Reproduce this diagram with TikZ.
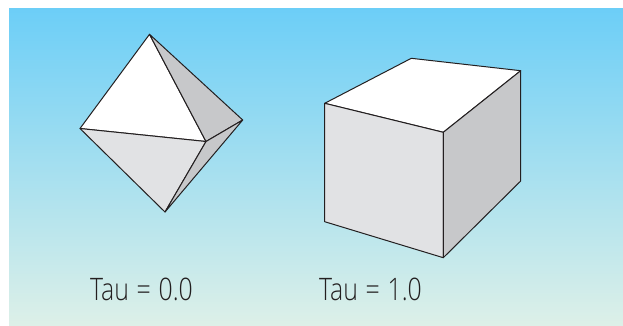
\documentclass[tikz,border=0pt]{standalone}
\usepackage{fontspec}
\setmainfont{Liberation Sans}
\newfontfamily\narrowfont[FakeStretch=0.8,WordSpace=1.2]{Open Sans Light}
\definecolor{topbg}{HTML}{6CCEF7}
\definecolor{botbg}{HTML}{DDF0E8}
\definecolor{inkline}{HTML}{231F20}
\definecolor{lightface}{HTML}{E1E2E4}
\definecolor{darkface}{HTML}{C7C8CA}
\tikzset{
  face/.style={draw=inkline,line width=1pt,line join=round},
  lab/.style={font=\narrowfont\fontsize{31}{34}\selectfont,text=inkline,anchor=base west,inner sep=0pt}
}
\begin{document}
\begin{tikzpicture}[x=1pt,y=-1pt]
\useasboundingbox (0,0) rectangle (623,325);
\fill[white] (0,0) rectangle (623,325);
\shade[top color=topbg,bottom color=botbg] (9,8) rectangle (623,325);
% octahedron
\coordinate (ot) at (149.5,34.3);
\coordinate (ol) at (80,128.5);
\coordinate (or) at (242.7,120);
\coordinate (ob) at (165,212);
\coordinate (oc) at (206,141.5);
\path[face,fill=white] (ot) -- (ol) -- (oc) -- cycle;
\path[face,fill=darkface] (ot) -- (or) -- (oc) -- cycle;
\path[face,fill=lightface] (ol) -- (oc) -- (ob) -- cycle;
\path[face,fill=darkface] (oc) -- (or) -- (ob) -- cycle;
% cube
\coordinate (cb) at (411.3,58.3);
\coordinate (cr) at (520.7,70.7);
\coordinate (cl) at (324.7,103.3);
\coordinate (cc) at (443.3,132.3);
\coordinate (cd) at (443.3,257.7);
\coordinate (cm) at (324.7,221.7);
\coordinate (cn) at (520.7,181);
\path[face,fill=white] (cb) -- (cr) -- (cc) -- (cl) -- cycle;
\path[face,fill=lightface] (cl) -- (cc) -- (cd) -- (cm) -- cycle;
\path[face,fill=darkface] (cc) -- (cr) -- (cn) -- (cd) -- cycle;
% labels
\node[lab] (t0) at (90,300) {Tau = 0.0};
\node[lab] (t1) at (319,300) {Tau = 1.0};
\end{tikzpicture}
\end{document}
